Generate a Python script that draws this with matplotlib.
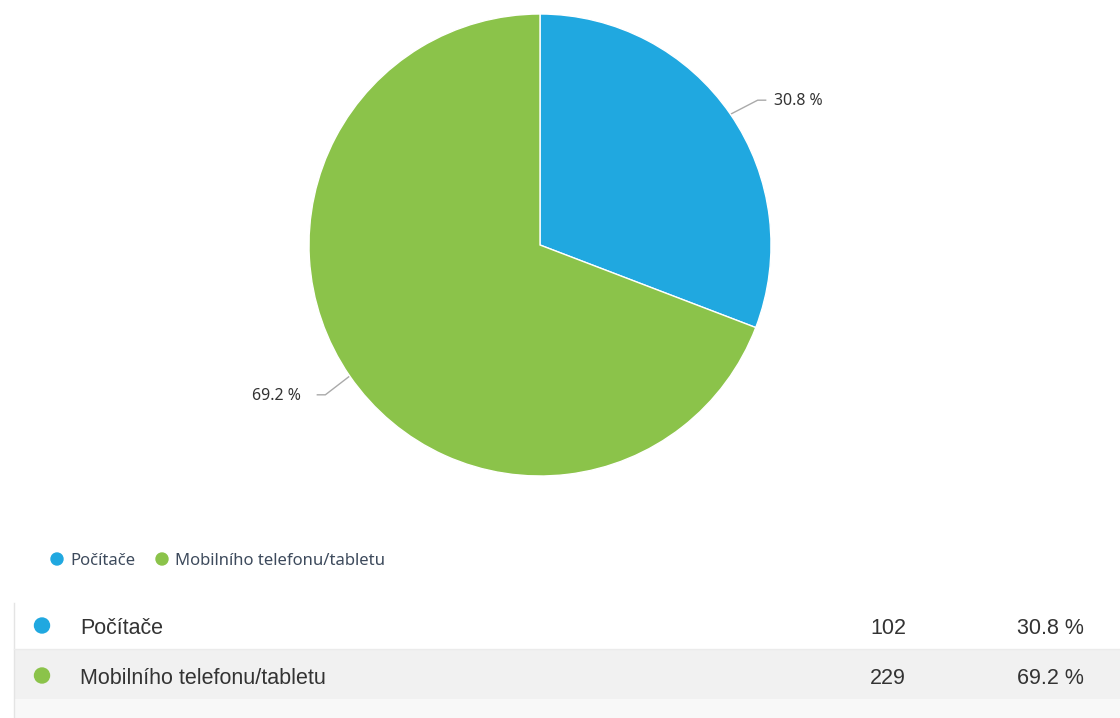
import numpy as np
import matplotlib
matplotlib.use("Agg")
from matplotlib import pyplot as plt
from matplotlib.patches import Rectangle, Circle

# odpovedi: odkud se pripojujete
labels = ['Počítače', 'Mobilního telefonu/tabletu']
counts = [102, 229]
colors = ['#20a8e0', '#8bc34a']

total = sum(counts)
pcts = [100.0 * c / total for c in counts]

W, H = 1120, 718
fig = plt.figure(figsize=(W / 100, H / 100), dpi=100)

# overlay v pixelech pro legendu, tabulku a popisky
ov = fig.add_axes([0, 0, 1, 1])
ov.set_xlim(0, W)
ov.set_ylim(H, 0)
ov.axis('off')

cx, cy, r = 540, 245, 231
ax = fig.add_axes([(cx - r) / W, 1 - (cy + r) / H, 2 * r / W, 2 * r / H])
ax.pie(counts, colors=colors, startangle=90, counterclock=False,
       wedgeprops=dict(edgecolor='white', linewidth=1))
ax.set_xlim(-1, 1)
ax.set_ylim(-1, 1)
ax.set_aspect('equal')
ax.axis('off')

# popisky s vodici carou
start = 90.0
for i, c in enumerate(counts):
    span = 360.0 * c / total
    mid = np.radians(start - span / 2)
    start -= span
    ex, ey = cx + (r - 2) * np.cos(mid), cy - (r - 2) * np.sin(mid)
    ty = ey - 15 if np.cos(mid) > 0 else ey + 20
    if np.cos(mid) > 0:
        tx = ex + 45
        pts = [(ex, ey), (tx - 16, ty), (tx - 8, ty)]
        ha = 'left'
    else:
        tx = ex - 50
        pts = [(ex, ey), (tx + 24, ty), (tx + 16, ty)]
        ha = 'right'
    ov.plot([p[0] for p in pts], [p[1] for p in pts], color='#aaaaaa', lw=1)
    ov.text(tx, ty + 1, f'{pcts[i]:.1f} %', ha=ha, va='center', fontsize=11.5,
            color='#333333', family='Noto Sans')

# legenda
lx = [57, 162]
for i, lab in enumerate(labels):
    ov.add_patch(Circle((lx[i], 559), 6, color=colors[i]))
    ov.text(lx[i] + 13, 561, lab, ha='left', va='center', fontsize=12,
            color='#3d4a5c', family='Noto Sans')

# tabulka
rows_y = [603, 649, 699]
ov.add_patch(Rectangle((14, 649), W - 14, 50, color='#f1f1f1', lw=0))
ov.add_patch(Rectangle((14, 699), W - 14, 19, color='#f8f8f8', lw=0))
ov.plot([13.5, 13.5], [603, 718], color='#e4e4e4', lw=1)
ov.plot([14, W], [648.5, 648.5], color='#ebebeb', lw=1)
text_y = [628, 678]
for i, lab in enumerate(labels):
    y = text_y[i]
    ov.add_patch(Circle((42, y - 2.5), 7.5, color=colors[i]))
    ov.text(80, y, lab, ha='left', va='center', fontsize=15.5,
            color='#333333', family='Liberation Sans')
    ov.text(906, y, str(counts[i]), ha='right', va='center', fontsize=15.5,
            color='#333333', family='Liberation Sans')
    ov.text(1084, y, f'{pcts[i]:.1f} %', ha='right', va='center', fontsize=15.5,
            color='#333333', family='Liberation Sans')

fig.savefig('out.png', dpi=100)
